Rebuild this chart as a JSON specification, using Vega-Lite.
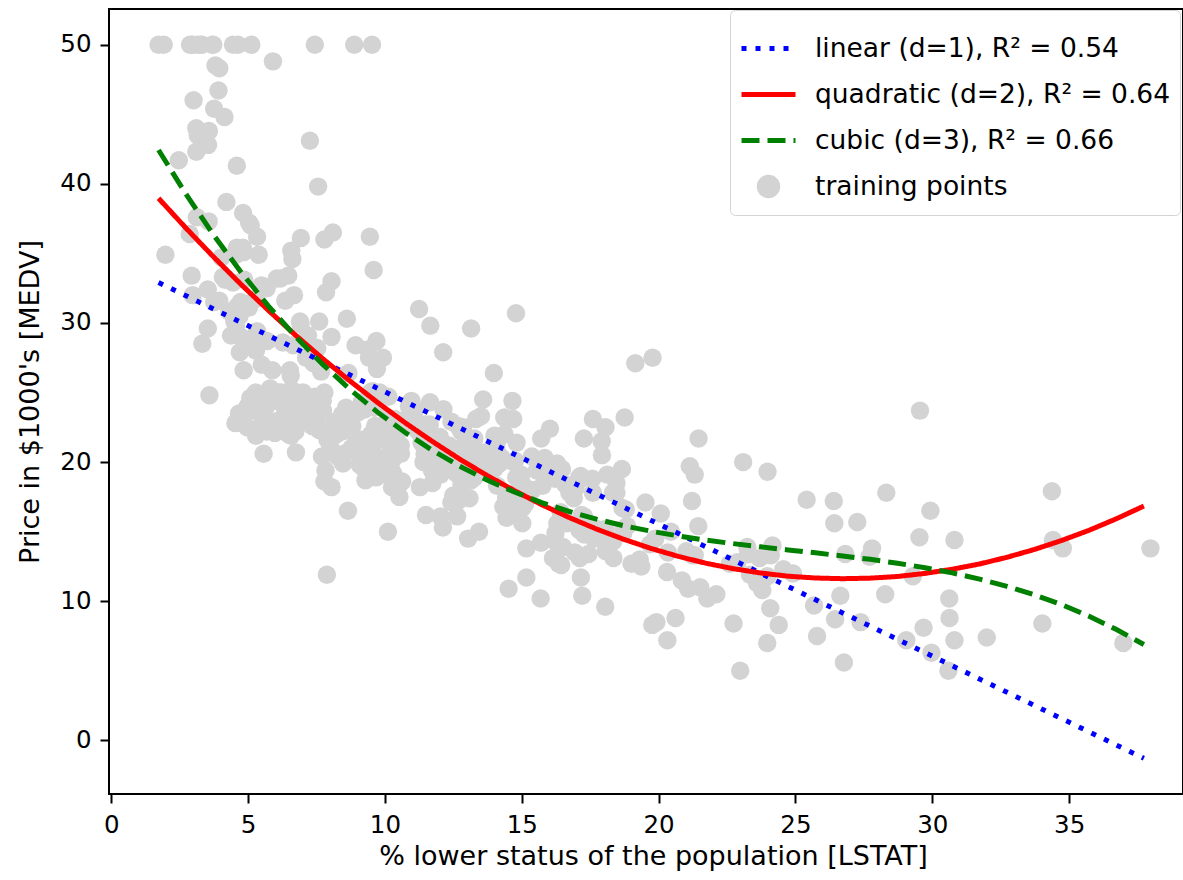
{
  "$schema": "https://vega.github.io/schema/vega-lite/v6.json",
  "width": 1074,
  "height": 785,
  "autosize": "none",
  "padding": {"left": 109, "top": 9, "right": 0, "bottom": 86},
  "background": "white",
  "config": {
    "font": "DejaVu Sans",
    "view": {"stroke": "black", "strokeWidth": 2},
    "axis": {
      "grid": false,
      "domain": false,
      "tickColor": "black",
      "tickSize": 9,
      "tickWidth": 2,
      "labelFont": "DejaVu Sans",
      "labelFontSize": 24.5,
      "labelColor": "black",
      "titleFont": "DejaVu Sans",
      "titleFontSize": 27,
      "titleFontWeight": "normal",
      "titleColor": "black"
    }
  },
  "datasets": {
    "pts": [
      {"lstat":4.98,"medv":24.0},{"lstat":9.14,"medv":21.6},{"lstat":4.03,"medv":34.7},{"lstat":2.94,"medv":33.4},{"lstat":5.33,"medv":36.2},{"lstat":5.21,"medv":28.7},{"lstat":12.43,"medv":22.9},{"lstat":19.15,"medv":27.1},{"lstat":29.93,"medv":16.5},{"lstat":17.10,"medv":18.9},
      {"lstat":20.45,"medv":15.0},{"lstat":13.27,"medv":18.9},{"lstat":15.71,"medv":21.7},{"lstat":8.26,"medv":20.4},{"lstat":10.26,"medv":18.2},{"lstat":8.47,"medv":19.9},{"lstat":6.58,"medv":23.1},{"lstat":14.67,"medv":17.5},{"lstat":11.69,"medv":20.2},{"lstat":11.28,"medv":18.2},
      {"lstat":21.02,"medv":13.6},{"lstat":13.83,"medv":19.6},{"lstat":18.72,"medv":15.2},{"lstat":19.88,"medv":14.5},{"lstat":16.30,"medv":15.6},{"lstat":16.51,"medv":13.9},{"lstat":14.81,"medv":16.6},{"lstat":17.28,"medv":14.8},{"lstat":12.80,"medv":18.4},{"lstat":11.98,"medv":21.0},
      {"lstat":22.60,"medv":12.7},{"lstat":13.04,"medv":14.5},{"lstat":27.71,"medv":13.2},{"lstat":18.35,"medv":13.1},{"lstat":20.34,"medv":13.5},{"lstat":9.68,"medv":18.9},{"lstat":11.41,"medv":20.0},{"lstat":8.77,"medv":21.0},{"lstat":10.13,"medv":24.7},{"lstat":4.32,"medv":30.8},
      {"lstat":1.98,"medv":34.9},{"lstat":4.84,"medv":26.6},{"lstat":5.81,"medv":25.3},{"lstat":7.44,"medv":24.7},{"lstat":9.55,"medv":21.2},{"lstat":10.21,"medv":19.3},{"lstat":14.15,"medv":20.0},{"lstat":18.80,"medv":16.6},{"lstat":30.81,"medv":14.4},{"lstat":16.20,"medv":19.4},
      {"lstat":13.45,"medv":19.7},{"lstat":9.43,"medv":20.5},{"lstat":5.28,"medv":25.0},{"lstat":8.43,"medv":23.4},{"lstat":14.80,"medv":18.9},{"lstat":4.81,"medv":35.4},{"lstat":5.77,"medv":24.7},{"lstat":3.95,"medv":31.6},{"lstat":6.86,"medv":23.3},{"lstat":9.22,"medv":19.6},
      {"lstat":13.15,"medv":18.7},{"lstat":14.44,"medv":16.0},{"lstat":6.73,"medv":22.2},{"lstat":9.50,"medv":25.0},{"lstat":8.05,"medv":33.0},{"lstat":4.67,"medv":23.5},{"lstat":10.24,"medv":19.4},{"lstat":8.10,"medv":22.0},{"lstat":13.09,"medv":17.4},{"lstat":8.79,"medv":20.9},
      {"lstat":6.72,"medv":24.2},{"lstat":9.88,"medv":21.7},{"lstat":5.52,"medv":22.8},{"lstat":7.54,"medv":23.4},{"lstat":6.78,"medv":24.1},{"lstat":8.94,"medv":21.4},{"lstat":11.97,"medv":20.0},{"lstat":10.27,"medv":20.8},{"lstat":12.34,"medv":21.2},{"lstat":9.10,"medv":20.3},
      {"lstat":5.29,"medv":28.0},{"lstat":7.22,"medv":23.9},{"lstat":6.72,"medv":24.8},{"lstat":7.51,"medv":22.9},{"lstat":9.62,"medv":23.9},{"lstat":6.53,"medv":26.6},{"lstat":12.86,"medv":22.5},{"lstat":8.44,"medv":22.2},{"lstat":5.50,"medv":23.6},{"lstat":5.70,"medv":28.7},
      {"lstat":8.81,"medv":22.6},{"lstat":8.20,"medv":22.0},{"lstat":8.16,"medv":22.9},{"lstat":6.21,"medv":25.0},{"lstat":10.59,"medv":20.6},{"lstat":6.65,"medv":28.4},{"lstat":11.34,"medv":21.4},{"lstat":4.21,"medv":38.7},{"lstat":3.57,"medv":43.8},{"lstat":6.19,"medv":33.2},
      {"lstat":9.42,"medv":27.5},{"lstat":7.67,"medv":26.5},{"lstat":10.63,"medv":18.6},{"lstat":13.44,"medv":19.3},{"lstat":12.33,"medv":20.1},{"lstat":16.47,"medv":19.5},{"lstat":18.66,"medv":19.5},{"lstat":14.09,"medv":20.4},{"lstat":12.27,"medv":19.8},{"lstat":15.55,"medv":19.4},
      {"lstat":13.00,"medv":21.7},{"lstat":10.16,"medv":22.8},{"lstat":16.21,"medv":18.8},{"lstat":17.09,"medv":18.7},{"lstat":10.45,"medv":18.5},{"lstat":15.76,"medv":18.3},{"lstat":12.04,"medv":21.2},{"lstat":10.30,"medv":19.2},{"lstat":15.37,"medv":20.4},{"lstat":13.61,"medv":19.3},
      {"lstat":14.37,"medv":22.0},{"lstat":14.27,"medv":20.3},{"lstat":17.93,"medv":20.5},{"lstat":25.41,"medv":17.3},{"lstat":17.58,"medv":18.8},{"lstat":14.81,"medv":21.4},{"lstat":27.26,"medv":15.7},{"lstat":17.19,"medv":16.2},{"lstat":15.39,"medv":18.0},{"lstat":18.34,"medv":14.3},
      {"lstat":12.60,"medv":19.2},{"lstat":12.26,"medv":19.6},{"lstat":11.12,"medv":23.0},{"lstat":15.03,"medv":18.4},{"lstat":17.31,"medv":15.6},{"lstat":16.96,"medv":18.1},{"lstat":16.90,"medv":17.4},{"lstat":14.59,"medv":17.1},{"lstat":21.32,"medv":13.3},{"lstat":18.46,"medv":17.8},
      {"lstat":24.16,"medv":14.0},{"lstat":34.41,"medv":14.4},{"lstat":26.82,"medv":13.4},{"lstat":26.42,"medv":15.6},{"lstat":29.29,"medv":11.8},{"lstat":27.80,"medv":13.8},{"lstat":16.65,"medv":15.6},{"lstat":29.53,"medv":14.6},{"lstat":28.32,"medv":17.8},{"lstat":21.45,"medv":15.4},
      {"lstat":14.10,"medv":21.5},{"lstat":13.28,"medv":19.6},{"lstat":12.12,"medv":15.3},{"lstat":15.79,"medv":19.4},{"lstat":15.12,"medv":17.0},{"lstat":15.02,"medv":15.6},{"lstat":16.14,"medv":13.1},{"lstat":4.59,"medv":41.3},{"lstat":6.43,"medv":24.3},{"lstat":7.39,"medv":23.3},
      {"lstat":5.50,"medv":27.0},{"lstat":1.73,"medv":50.0},{"lstat":1.92,"medv":50.0},{"lstat":3.32,"medv":50.0},{"lstat":11.64,"medv":22.7},{"lstat":9.81,"medv":25.0},{"lstat":3.70,"medv":50.0},{"lstat":12.14,"medv":23.8},{"lstat":11.10,"medv":23.8},{"lstat":11.32,"medv":22.3},
      {"lstat":14.43,"medv":17.4},{"lstat":12.03,"medv":19.1},{"lstat":14.69,"medv":23.1},{"lstat":9.04,"medv":23.6},{"lstat":9.64,"medv":22.6},{"lstat":5.33,"medv":29.4},{"lstat":10.11,"medv":23.2},{"lstat":6.29,"medv":24.6},{"lstat":6.92,"medv":29.9},{"lstat":5.04,"medv":37.2},
      {"lstat":7.56,"medv":39.8},{"lstat":9.45,"medv":36.2},{"lstat":4.82,"medv":37.9},{"lstat":5.68,"medv":32.5},{"lstat":13.98,"medv":26.4},{"lstat":13.15,"medv":29.6},{"lstat":4.45,"medv":50.0},{"lstat":6.68,"medv":32.0},{"lstat":4.56,"medv":29.8},{"lstat":5.39,"medv":34.9},
      {"lstat":5.10,"medv":37.0},{"lstat":4.69,"medv":30.5},{"lstat":2.87,"medv":36.4},{"lstat":5.03,"medv":31.1},{"lstat":4.38,"medv":29.1},{"lstat":2.97,"medv":50.0},{"lstat":4.08,"medv":33.3},{"lstat":8.61,"medv":30.3},{"lstat":6.62,"medv":34.6},{"lstat":4.56,"medv":34.9},
      {"lstat":4.45,"medv":32.9},{"lstat":7.43,"medv":24.1},{"lstat":3.11,"medv":42.3},{"lstat":3.81,"medv":48.5},{"lstat":2.88,"medv":50.0},{"lstat":10.87,"medv":22.6},{"lstat":10.97,"medv":24.4},{"lstat":18.06,"medv":22.5},{"lstat":14.66,"medv":24.4},{"lstat":23.09,"medv":20.0},
      {"lstat":17.27,"medv":21.7},{"lstat":23.98,"medv":19.3},{"lstat":16.03,"medv":22.4},{"lstat":9.38,"medv":28.1},{"lstat":29.55,"medv":23.7},{"lstat":9.47,"medv":25.0},{"lstat":13.51,"medv":23.3},{"lstat":9.69,"medv":28.7},{"lstat":17.92,"medv":21.5},{"lstat":10.50,"medv":23.0},
      {"lstat":9.71,"medv":26.7},{"lstat":21.46,"medv":21.7},{"lstat":9.93,"medv":27.5},{"lstat":7.60,"medv":30.1},{"lstat":4.14,"medv":44.8},{"lstat":4.63,"medv":50.0},{"lstat":3.13,"medv":37.6},{"lstat":6.36,"medv":31.6},{"lstat":3.92,"medv":46.7},{"lstat":3.76,"medv":31.5},
      {"lstat":11.65,"medv":24.3},{"lstat":5.25,"medv":31.7},{"lstat":2.47,"medv":41.7},{"lstat":3.95,"medv":48.3},{"lstat":8.05,"medv":29.0},{"lstat":10.88,"medv":24.0},{"lstat":9.54,"medv":25.1},{"lstat":4.73,"medv":31.5},{"lstat":6.36,"medv":23.7},{"lstat":7.37,"medv":23.3},
      {"lstat":11.38,"medv":22.0},{"lstat":12.40,"medv":20.1},{"lstat":11.22,"medv":22.2},{"lstat":5.19,"medv":23.7},{"lstat":12.50,"medv":17.6},{"lstat":18.46,"medv":18.5},{"lstat":9.16,"medv":24.3},{"lstat":10.15,"medv":20.5},{"lstat":9.52,"medv":24.5},{"lstat":6.56,"medv":26.2},
      {"lstat":5.90,"medv":24.4},{"lstat":3.59,"medv":24.8},{"lstat":3.53,"medv":29.6},{"lstat":3.54,"medv":42.8},{"lstat":6.57,"medv":21.9},{"lstat":9.25,"medv":20.9},{"lstat":3.11,"medv":44.0},{"lstat":5.12,"medv":50.0},{"lstat":7.79,"medv":36.0},{"lstat":6.90,"medv":30.1},
      {"lstat":9.59,"medv":33.8},{"lstat":7.26,"medv":43.1},{"lstat":5.91,"medv":48.8},{"lstat":11.25,"medv":31.0},{"lstat":8.10,"medv":36.5},{"lstat":10.45,"medv":22.8},{"lstat":14.79,"medv":30.7},{"lstat":7.44,"medv":50.0},{"lstat":3.16,"medv":43.5},{"lstat":13.65,"medv":20.7},
      {"lstat":13.00,"medv":21.1},{"lstat":6.59,"medv":25.2},{"lstat":7.73,"medv":24.4},{"lstat":6.58,"medv":35.2},{"lstat":3.53,"medv":32.4},{"lstat":2.98,"medv":32.0},{"lstat":6.05,"medv":33.2},{"lstat":4.16,"medv":33.1},{"lstat":7.19,"medv":29.1},{"lstat":4.85,"medv":35.1},
      {"lstat":3.76,"medv":45.4},{"lstat":4.59,"medv":35.4},{"lstat":3.01,"medv":46.0},{"lstat":3.16,"medv":50.0},{"lstat":7.85,"medv":32.2},{"lstat":8.23,"medv":22.0},{"lstat":12.93,"medv":20.1},{"lstat":7.14,"medv":23.2},{"lstat":7.60,"medv":22.3},{"lstat":9.51,"medv":24.8},
      {"lstat":3.33,"medv":28.5},{"lstat":3.56,"medv":37.3},{"lstat":4.70,"medv":27.9},{"lstat":8.58,"medv":23.9},{"lstat":10.40,"medv":21.7},{"lstat":6.27,"medv":28.6},{"lstat":7.39,"medv":27.1},{"lstat":15.84,"medv":20.3},{"lstat":4.97,"medv":22.5},{"lstat":4.74,"medv":29.0},
      {"lstat":6.07,"medv":24.8},{"lstat":9.50,"medv":22.0},{"lstat":8.67,"medv":26.4},{"lstat":4.86,"medv":33.1},{"lstat":6.93,"medv":36.1},{"lstat":8.93,"medv":28.4},{"lstat":6.47,"medv":33.4},{"lstat":7.53,"medv":28.2},{"lstat":4.54,"medv":22.8},{"lstat":9.97,"medv":20.3},
      {"lstat":12.64,"medv":16.1},{"lstat":5.98,"medv":22.1},{"lstat":11.72,"medv":19.4},{"lstat":7.90,"medv":21.6},{"lstat":9.28,"medv":23.8},{"lstat":11.50,"medv":16.2},{"lstat":18.33,"medv":17.8},{"lstat":15.94,"medv":19.8},{"lstat":10.36,"medv":23.1},{"lstat":12.73,"medv":21.0},
      {"lstat":7.20,"medv":23.8},{"lstat":6.87,"medv":23.1},{"lstat":7.70,"medv":20.4},{"lstat":11.74,"medv":18.5},{"lstat":6.12,"medv":25.0},{"lstat":5.08,"medv":24.6},{"lstat":6.15,"medv":23.0},{"lstat":12.79,"medv":22.2},{"lstat":9.97,"medv":19.3},{"lstat":7.34,"medv":22.6},
      {"lstat":9.09,"medv":19.8},{"lstat":12.43,"medv":17.1},{"lstat":7.83,"medv":19.4},{"lstat":5.68,"medv":22.2},{"lstat":6.75,"medv":20.7},{"lstat":8.01,"medv":21.1},{"lstat":9.80,"medv":19.5},{"lstat":10.56,"medv":18.5},{"lstat":8.51,"medv":20.6},{"lstat":9.74,"medv":19.0},
      {"lstat":9.29,"medv":18.7},{"lstat":5.49,"medv":32.7},{"lstat":8.65,"medv":16.5},{"lstat":7.18,"medv":23.9},{"lstat":4.61,"medv":31.2},{"lstat":10.53,"medv":17.5},{"lstat":12.67,"medv":17.2},{"lstat":6.36,"medv":23.1},{"lstat":5.99,"medv":24.5},{"lstat":5.89,"medv":26.6},
      {"lstat":5.98,"medv":22.9},{"lstat":5.49,"medv":24.1},{"lstat":7.79,"medv":18.6},{"lstat":4.50,"medv":30.1},{"lstat":8.05,"medv":18.2},{"lstat":5.57,"medv":20.6},{"lstat":17.60,"medv":17.8},{"lstat":13.27,"medv":21.7},{"lstat":11.48,"medv":22.7},{"lstat":12.67,"medv":22.6},
      {"lstat":7.79,"medv":25.0},{"lstat":14.19,"medv":19.9},{"lstat":10.19,"medv":20.8},{"lstat":14.64,"medv":16.8},{"lstat":5.29,"medv":21.9},{"lstat":7.12,"medv":27.5},{"lstat":14.00,"medv":21.9},{"lstat":13.33,"medv":23.1},{"lstat":3.26,"medv":50.0},{"lstat":3.73,"medv":50.0},
      {"lstat":2.96,"medv":50.0},{"lstat":9.53,"medv":50.0},{"lstat":8.88,"medv":50.0},{"lstat":34.77,"medv":13.8},{"lstat":37.97,"medv":13.8},{"lstat":13.44,"medv":15.0},{"lstat":23.24,"medv":13.9},{"lstat":21.24,"medv":13.3},{"lstat":23.69,"medv":13.1},{"lstat":21.78,"medv":10.2},
      {"lstat":17.21,"medv":10.4},{"lstat":21.08,"medv":10.9},{"lstat":23.60,"medv":11.3},{"lstat":24.56,"medv":12.3},{"lstat":30.63,"medv":8.8},{"lstat":30.81,"medv":7.2},{"lstat":28.28,"medv":10.5},{"lstat":31.99,"medv":7.4},{"lstat":30.62,"medv":10.2},{"lstat":20.85,"medv":11.5},
      {"lstat":17.11,"medv":15.1},{"lstat":18.76,"medv":23.2},{"lstat":25.68,"medv":9.7},{"lstat":15.17,"medv":13.8},{"lstat":16.35,"medv":12.7},{"lstat":17.12,"medv":13.1},{"lstat":19.37,"medv":12.5},{"lstat":19.92,"medv":8.5},{"lstat":30.59,"medv":5.0},{"lstat":29.97,"medv":6.3},
      {"lstat":26.77,"medv":5.6},{"lstat":20.32,"medv":7.2},{"lstat":20.31,"medv":12.1},{"lstat":19.77,"medv":8.3},{"lstat":27.38,"medv":8.5},{"lstat":22.98,"medv":5.0},{"lstat":23.34,"medv":11.9},{"lstat":12.13,"medv":27.9},{"lstat":26.40,"medv":17.2},{"lstat":19.78,"medv":27.5},
      {"lstat":10.11,"medv":15.0},{"lstat":21.22,"medv":17.2},{"lstat":34.37,"medv":17.9},{"lstat":20.08,"medv":16.3},{"lstat":36.98,"medv":7.0},{"lstat":29.05,"medv":7.2},{"lstat":25.79,"medv":7.5},{"lstat":26.64,"medv":10.4},{"lstat":20.62,"medv":8.8},{"lstat":22.74,"medv":8.4},
      {"lstat":15.02,"medv":16.7},{"lstat":15.70,"medv":14.2},{"lstat":14.10,"medv":20.8},{"lstat":23.29,"medv":13.4},{"lstat":17.16,"medv":11.7},{"lstat":24.39,"medv":8.3},{"lstat":15.69,"medv":10.2},{"lstat":14.52,"medv":10.9},{"lstat":21.52,"medv":11.0},{"lstat":24.08,"medv":9.5},
      {"lstat":17.64,"medv":14.5},{"lstat":19.69,"medv":14.1},{"lstat":12.03,"medv":16.1},{"lstat":16.22,"medv":14.3},{"lstat":15.17,"medv":11.7},{"lstat":23.27,"medv":13.4},{"lstat":18.05,"medv":9.6},{"lstat":26.45,"medv":8.7},{"lstat":34.02,"medv":8.4},{"lstat":22.88,"medv":12.8},
      {"lstat":22.11,"medv":10.5},{"lstat":19.52,"medv":17.1},{"lstat":16.59,"medv":18.4},{"lstat":18.85,"medv":15.4},{"lstat":23.79,"medv":10.8},{"lstat":23.98,"medv":11.8},{"lstat":17.79,"medv":14.9},{"lstat":16.44,"medv":12.6},{"lstat":18.13,"medv":14.1},{"lstat":19.31,"medv":13.0},
      {"lstat":17.44,"medv":13.4},{"lstat":17.73,"medv":15.2},{"lstat":17.27,"medv":16.1},{"lstat":16.74,"medv":17.8},{"lstat":18.71,"medv":14.9},{"lstat":18.13,"medv":14.1},{"lstat":19.01,"medv":12.7},{"lstat":16.94,"medv":13.5},{"lstat":16.23,"medv":14.9},{"lstat":14.70,"medv":20.0},
      {"lstat":16.42,"medv":16.4},{"lstat":14.65,"medv":17.7},{"lstat":13.99,"medv":19.5},{"lstat":10.29,"medv":20.2},{"lstat":13.22,"medv":21.4},{"lstat":14.13,"medv":19.9},{"lstat":17.15,"medv":19.0},{"lstat":21.32,"medv":19.1},{"lstat":18.13,"medv":19.1},{"lstat":14.76,"medv":20.1},
      {"lstat":16.29,"medv":19.9},{"lstat":12.87,"medv":19.6},{"lstat":14.36,"medv":23.2},{"lstat":11.66,"medv":29.8},{"lstat":18.14,"medv":13.8},{"lstat":24.10,"medv":13.3},{"lstat":18.68,"medv":16.7},{"lstat":24.91,"medv":12.0},{"lstat":18.03,"medv":14.6},{"lstat":13.11,"medv":21.4},
      {"lstat":10.74,"medv":23.0},{"lstat":7.74,"medv":23.7},{"lstat":7.01,"medv":25.0},{"lstat":10.42,"medv":21.8},{"lstat":13.34,"medv":20.6},{"lstat":10.58,"medv":21.2},{"lstat":14.98,"medv":19.1},{"lstat":11.45,"medv":20.6},{"lstat":18.06,"medv":15.2},{"lstat":23.97,"medv":7.0},
      {"lstat":29.68,"medv":8.1},{"lstat":18.07,"medv":13.6},{"lstat":13.35,"medv":20.1},{"lstat":12.01,"medv":21.8},{"lstat":13.59,"medv":24.5},{"lstat":17.60,"medv":23.1},{"lstat":21.14,"medv":19.7},{"lstat":14.10,"medv":18.3},{"lstat":12.92,"medv":21.2},{"lstat":15.10,"medv":17.5},
      {"lstat":14.33,"medv":16.8},{"lstat":9.67,"medv":22.4},{"lstat":9.08,"medv":20.6},{"lstat":5.64,"medv":23.9},{"lstat":6.48,"medv":22.0},{"lstat":7.88,"medv":11.9}
    ],
    "fits": [
      {"model":"linear (d=1), R² = 0.54","lstat":1.73,"medv":32.91},
      {"model":"linear (d=1), R² = 0.54","lstat":10.73,"medv":24.36},
      {"model":"linear (d=1), R² = 0.54","lstat":19.73,"medv":15.81},
      {"model":"linear (d=1), R² = 0.54","lstat":28.73,"medv":7.26},
      {"model":"linear (d=1), R² = 0.54","lstat":37.73,"medv":-1.29},
      {"model":"quadratic (d=2), R² = 0.64","lstat":1.73,"medv":38.96},
      {"model":"quadratic (d=2), R² = 0.64","lstat":2.73,"medv":36.82},
      {"model":"quadratic (d=2), R² = 0.64","lstat":3.73,"medv":34.77},
      {"model":"quadratic (d=2), R² = 0.64","lstat":4.73,"medv":32.80},
      {"model":"quadratic (d=2), R² = 0.64","lstat":5.73,"medv":30.93},
      {"model":"quadratic (d=2), R² = 0.64","lstat":6.73,"medv":29.13},
      {"model":"quadratic (d=2), R² = 0.64","lstat":7.73,"medv":27.43},
      {"model":"quadratic (d=2), R² = 0.64","lstat":8.73,"medv":25.82},
      {"model":"quadratic (d=2), R² = 0.64","lstat":9.73,"medv":24.29},
      {"model":"quadratic (d=2), R² = 0.64","lstat":10.73,"medv":22.84},
      {"model":"quadratic (d=2), R² = 0.64","lstat":11.73,"medv":21.49},
      {"model":"quadratic (d=2), R² = 0.64","lstat":12.73,"medv":20.22},
      {"model":"quadratic (d=2), R² = 0.64","lstat":13.73,"medv":19.04},
      {"model":"quadratic (d=2), R² = 0.64","lstat":14.73,"medv":17.95},
      {"model":"quadratic (d=2), R² = 0.64","lstat":15.73,"medv":16.94},
      {"model":"quadratic (d=2), R² = 0.64","lstat":16.73,"medv":16.02},
      {"model":"quadratic (d=2), R² = 0.64","lstat":17.73,"medv":15.19},
      {"model":"quadratic (d=2), R² = 0.64","lstat":18.73,"medv":14.45},
      {"model":"quadratic (d=2), R² = 0.64","lstat":19.73,"medv":13.79},
      {"model":"quadratic (d=2), R² = 0.64","lstat":20.73,"medv":13.22},
      {"model":"quadratic (d=2), R² = 0.64","lstat":21.73,"medv":12.73},
      {"model":"quadratic (d=2), R² = 0.64","lstat":22.73,"medv":12.34},
      {"model":"quadratic (d=2), R² = 0.64","lstat":23.73,"medv":12.03},
      {"model":"quadratic (d=2), R² = 0.64","lstat":24.73,"medv":11.80},
      {"model":"quadratic (d=2), R² = 0.64","lstat":25.73,"medv":11.67},
      {"model":"quadratic (d=2), R² = 0.64","lstat":26.73,"medv":11.62},
      {"model":"quadratic (d=2), R² = 0.64","lstat":27.73,"medv":11.66},
      {"model":"quadratic (d=2), R² = 0.64","lstat":28.73,"medv":11.78},
      {"model":"quadratic (d=2), R² = 0.64","lstat":29.73,"medv":12.00},
      {"model":"quadratic (d=2), R² = 0.64","lstat":30.73,"medv":12.30},
      {"model":"quadratic (d=2), R² = 0.64","lstat":31.73,"medv":12.68},
      {"model":"quadratic (d=2), R² = 0.64","lstat":32.73,"medv":13.16},
      {"model":"quadratic (d=2), R² = 0.64","lstat":33.73,"medv":13.72},
      {"model":"quadratic (d=2), R² = 0.64","lstat":34.73,"medv":14.37},
      {"model":"quadratic (d=2), R² = 0.64","lstat":35.73,"medv":15.10},
      {"model":"quadratic (d=2), R² = 0.64","lstat":36.73,"medv":15.93},
      {"model":"quadratic (d=2), R² = 0.64","lstat":37.73,"medv":16.84},
      {"model":"cubic (d=3), R² = 0.66","lstat":1.73,"medv":42.43},
      {"model":"cubic (d=3), R² = 0.66","lstat":2.73,"medv":39.27},
      {"model":"cubic (d=3), R² = 0.66","lstat":3.73,"medv":36.35},
      {"model":"cubic (d=3), R² = 0.66","lstat":4.73,"medv":33.69},
      {"model":"cubic (d=3), R² = 0.66","lstat":5.73,"medv":31.25},
      {"model":"cubic (d=3), R² = 0.66","lstat":6.73,"medv":29.03},
      {"model":"cubic (d=3), R² = 0.66","lstat":7.73,"medv":27.02},
      {"model":"cubic (d=3), R² = 0.66","lstat":8.73,"medv":25.21},
      {"model":"cubic (d=3), R² = 0.66","lstat":9.73,"medv":23.59},
      {"model":"cubic (d=3), R² = 0.66","lstat":10.73,"medv":22.14},
      {"model":"cubic (d=3), R² = 0.66","lstat":11.73,"medv":20.85},
      {"model":"cubic (d=3), R² = 0.66","lstat":12.73,"medv":19.71},
      {"model":"cubic (d=3), R² = 0.66","lstat":13.73,"medv":18.71},
      {"model":"cubic (d=3), R² = 0.66","lstat":14.73,"medv":17.85},
      {"model":"cubic (d=3), R² = 0.66","lstat":15.73,"medv":17.09},
      {"model":"cubic (d=3), R² = 0.66","lstat":16.73,"medv":16.45},
      {"model":"cubic (d=3), R² = 0.66","lstat":17.73,"medv":15.90},
      {"model":"cubic (d=3), R² = 0.66","lstat":18.73,"medv":15.42},
      {"model":"cubic (d=3), R² = 0.66","lstat":19.73,"medv":15.03},
      {"model":"cubic (d=3), R² = 0.66","lstat":20.73,"medv":14.69},
      {"model":"cubic (d=3), R² = 0.66","lstat":21.73,"medv":14.39},
      {"model":"cubic (d=3), R² = 0.66","lstat":22.73,"medv":14.14},
      {"model":"cubic (d=3), R² = 0.66","lstat":23.73,"medv":13.91},
      {"model":"cubic (d=3), R² = 0.66","lstat":24.73,"medv":13.69},
      {"model":"cubic (d=3), R² = 0.66","lstat":25.73,"medv":13.48},
      {"model":"cubic (d=3), R² = 0.66","lstat":26.73,"medv":13.25},
      {"model":"cubic (d=3), R² = 0.66","lstat":27.73,"medv":13.01},
      {"model":"cubic (d=3), R² = 0.66","lstat":28.73,"medv":12.73},
      {"model":"cubic (d=3), R² = 0.66","lstat":29.73,"medv":12.41},
      {"model":"cubic (d=3), R² = 0.66","lstat":30.73,"medv":12.04},
      {"model":"cubic (d=3), R² = 0.66","lstat":31.73,"medv":11.59},
      {"model":"cubic (d=3), R² = 0.66","lstat":32.73,"medv":11.07},
      {"model":"cubic (d=3), R² = 0.66","lstat":33.73,"medv":10.46},
      {"model":"cubic (d=3), R² = 0.66","lstat":34.73,"medv":9.75},
      {"model":"cubic (d=3), R² = 0.66","lstat":35.73,"medv":8.92},
      {"model":"cubic (d=3), R² = 0.66","lstat":36.73,"medv":7.97},
      {"model":"cubic (d=3), R² = 0.66","lstat":37.73,"medv":6.89}
    ]
  },
  "layer": [
    {
      "data": {"name": "pts"},
      "mark": {"type": "circle", "color": "#d3d3d3", "opacity": 1, "size": 340},
      "encoding": {
        "x": {"field": "lstat", "type": "quantitative",
              "scale": {"domain": [-0.08, 39.16], "nice": false, "zero": false},
              "axis": {"title": "% lower status of the population [LSTAT]", "values": [0, 5, 10, 15, 20, 25, 30, 35], "labelPadding": 10, "titlePadding": 7, "titleX": 544}},
        "y": {"field": "medv", "type": "quantitative",
              "scale": {"domain": [-3.854, 52.564], "nice": false, "zero": false},
              "axis": {"title": "Price in $1000's [MEDV]", "values": [0, 10, 20, 30, 40, 50], "labelPadding": 9, "titlePadding": 15}}
      }
    },
    {
      "data": {"name": "fits"},
      "mark": {"type": "line", "strokeWidth": 5, "strokeCap": "butt"},
      "encoding": {
        "x": {"field": "lstat", "type": "quantitative"},
        "y": {"field": "medv", "type": "quantitative"},
        "color": {
          "field": "model", "type": "nominal",
          "scale": {"domain": ["linear (d=1), R² = 0.54", "quadratic (d=2), R² = 0.64", "cubic (d=3), R² = 0.66", "training points"],
                    "range": ["#0000ff", "#ff0000", "#008000", "#d3d3d3"]},
          "legend": {
            "title": null,
            "orient": "none",
            "legendX": 621,
            "legendY": 1,
            "padding": 9,
            "strokeColor": "#d4d4d4",
            "fillColor": "white",
            "cornerRadius": 5,
            "labelFontSize": 26.5,
            "labelFont": "DejaVu Sans",
            "labelColor": "black",
            "labelLimit": 0,
            "labelOffset": 17,
            "symbolType": "stroke",
            "symbolSize": 2916,
            "symbolStrokeWidth": 5,
            "rowPadding": 3,
            "encode": {
              "symbols": {
                "update": {
                  "shape": {"signal": "datum.value === 'training points' ? 'circle' : 'stroke'"},
                  "size": {"signal": "datum.value === 'training points' ? 340 : 2916"},
                  "fill": {"signal": "datum.value === 'training points' ? '#d3d3d3' : 'transparent'"},
                  "stroke": {"signal": "datum.value === 'training points' ? 'transparent' : scale('color', datum.value)"},
                  "strokeDash": {"signal": "substring(datum.value, 0, 6) === 'linear' ? [5, 9] : (substring(datum.value, 0, 5) === 'cubic' ? [18, 8] : [1, 0])"},
                  "strokeWidth": {"value": 5},
                  "opacity": {"value": 1}
                }
              }
            }
          }
        },
        "strokeDash": {
          "field": "model", "type": "nominal",
          "scale": {"domain": ["linear (d=1), R² = 0.54", "quadratic (d=2), R² = 0.64", "cubic (d=3), R² = 0.66"],
                    "range": [[5, 9], [1, 0], [18, 8]]},
          "legend": null
        }
      }
    }
  ]
}
